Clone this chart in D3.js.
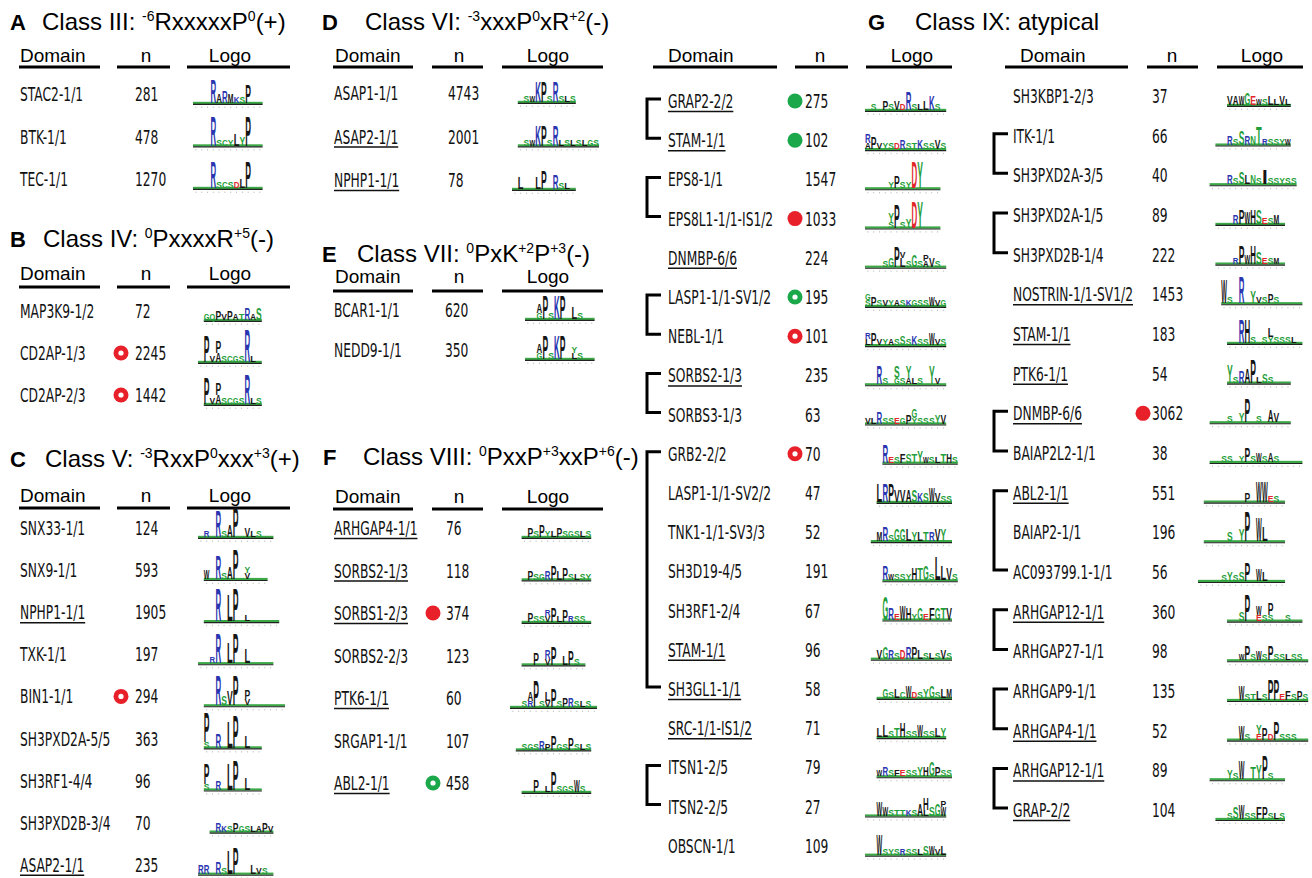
<!DOCTYPE html>
<html><head><meta charset="utf-8">
<script src="https://cdn.jsdelivr.net/npm/d3@7"></script>
<style>body{margin:0;background:#fff}</style>
</head><body>
<svg id="c" width="1312" height="878"></svg>
<script>
// ---------------- DATA ----------------
// Titles ("^" marks a superscript segment)
const titleA = ["Class III: ", "^-6", "RxxxxxP", "^0", "(+)"];
const titleB = ["Class IV: ", "^0", "PxxxxR", "^+5", "(-)"];
const titleC = ["Class V: ", "^-3", "RxxP", "^0", "xxx", "^+3", "(+)"];
const titleD = ["Class VI: ", "^-3", "xxxP", "^0", "xR", "^+2", "(-)"];
const titleE = ["Class VII: ", "^0", "PxK", "^+2", "P", "^+3", "(-)"];
const titleF = ["Class VIII: ", "^0", "PxxP", "^+3", "xxP", "^+6", "(-)"];
const titleG = ["Class IX: atypical"];
const headers = ["Domain", "n", "Logo"];

// Logos: one token per position, stacked letters top-first with height (0-10);
// "." = no position, "_" = low-information position
const aDomains = ["STAC2-1/1", "BTK-1/1", "TEC-1/1"];
const aN = [281, 478, 1270];
const aMarks = ["", "", ""];
const aUnder = [0, 0, 0];
const aLogos = [
  "_ _ _ R8 A3 R4 M3 K2 S2 P6 _ _",
  "_ _ _ R10 S2 C2 Y2 L4 Y3 P10 _ _",
  "_ _ _ R9 S2 C2 S2 D2 L3 P9 _ _"
];

const bDomains = ["MAP3K9-1/2", "CD2AP-1/3", "CD2AP-2/3"];
const bN = [72, 2245, 1442];
const bMarks = ["", "rr", "rr"];
const bUnder = [0, 0, 0];
const bLogos = [
  ". G2 Q2 P3 V2 P3 A2 T2 R4 A2 S4",
  "_ P9 V2 P4A3 S2 C2 G2 S2 R11 L2 _",
  ". P9 V2 P4A3 S2 C2 G2 S2 R10 L2 S2"
];

const cDomains = ["SNX33-1/1", "SNX9-1/1", "NPHP1-1/1", "TXK-1/1", "BIN1-1/1", "SH3PXD2A-5/5", "SH3RF1-4/4", "SH3PXD2B-3/4", "ASAP2-1/1"];
const cN = [124, 593, 1905, 197, 294, 363, 96, 70, 235];
const cMarks = ["", "", "", "", "rr", "", "", "", ""];
const cUnder = [0, 0, 1, 0, 0, 0, 0, 0, 1];
const cLogos = [
  "_ R2 _ R9 S2 A4 P10 _ V3 L2 S2 _ _",
  ". W3 _ R8 S2 A4 P10 _ Y2V2 _ _ _",
  ". _ _ R11 _ L9 P11 _ L2 _ _ _ _ _",
  "_ _ R2 R10 _ L7 P10 _ L5 _ _ _ _",
  ". _ _ R10 S3 V5 P10 _ P3V2 _ _ _ _ _ _",
  ". P10S2 _ R5 _ L9 P11 _ L4 _ _",
  ". P7S2 _ R3 _ L9 P10 _ L4 _ _",
  ". . _ R3 K2 S2 P3 G2 S2 L2 A2 P3 V2",
  "R3 R3 _ R4 S2 L8 P9 _ _ L3 V2 S2 _"
];

const dDomains = ["ASAP1-1/1", "ASAP2-1/1", "NPHP1-1/1"];
const dN = [4743, 2001, 78];
const dMarks = ["", "", ""];
const dUnder = [0, 1, 1];
const dLogos = [
  ". _ S2 W2 K7 P7 S2 R7 S2 L2 S2",
  ". _ S2 W2 K7 P7 S2 R7 L2 S2 L2 S2 L2 G2 S2",
  "_ L4 _ _ L4 P6 _ R5 S2 L2 _"
];

const eDomains = ["BCAR1-1/1", "NEDD9-1/1"];
const eN = [620, 350];
const eMarks = ["", ""];
const eUnder = [0, 0];
const eLogos = [
  "_ _ A3G2 P8 S2 K8 P8 _ L4 S2 _ _",
  "_ _ A3G2 P8 S2 K8 P8 _ Y2L2 S2 _ _"
];

const fDomains = ["ARHGAP4-1/1", "SORBS2-1/3", "SORBS1-2/3", "SORBS2-2/3", "PTK6-1/1", "SRGAP1-1/1", "ABL2-1/1"];
const fN = [76, 118, 374, 123, 60, 107, 458];
const fMarks = ["", "", "rf", "", "", "", "gr"];
const fUnder = [1, 1, 1, 0, 1, 0, 1];
const fLogos = [
  ". . _ P3 S2 P4 Y2 L2 P3 S2 G2 S2 L2 S2",
  ". . _ P3 S2 G2 R3 P5 L3 P4 S2 L2 S2 Y2",
  ". . _ P3 S2 S2 R2V2 P5 L2 P4 R2 S2 S2 _",
  ". . _ _ P4 _ R3V2 P6 _ L3 P5 S2 _",
  "_ _ S2 A3R2 P9 S2 L3V2 P6 S2 P3 R3 S2 L2 S2 _",
  ". _ S2 G2 S2 R3 P2 P5 G2 S2 P4 S2 L2 S2",
  ". . _ _ P4 _ L2 P7 S2 G2 S2 W4 S2 _"
];

const gLDomains = ["GRAP2-2/2", "STAM-1/1", "EPS8-1/1", "EPS8L1-1/1-IS1/2", "DNMBP-6/6", "LASP1-1/1-SV1/2", "NEBL-1/1", "SORBS2-1/3", "SORBS3-1/3", "GRB2-2/2", "LASP1-1/1-SV2/2", "TNK1-1/1-SV3/3", "SH3D19-4/5", "SH3RF1-2/4", "STAM-1/1", "SH3GL1-1/1", "SRC-1/1-IS1/2", "ITSN1-2/5", "ITSN2-2/5", "OBSCN-1/1"];
const gLN = [275, 102, 1547, 1033, 224, 195, 101, 235, 63, 70, 47, 52, 191, 67, 96, 58, 71, 79, 27, 109];
const gLMarks = ["gf", "gf", "", "rf", "", "gr", "rr", "", "", "rr", "", "", "", "", "", "", "", "", "", ""];
const gLUnder = [1, 1, 0, 0, 1, 0, 0, 1, 0, 0, 0, 0, 0, 0, 1, 1, 1, 0, 0, 0];
const gLBrackets = [[0, 1], [2, 3], [5, 6], [7, 8], [9, 15], [17, 18]];
const gLLogos = [
  "_ S2 _ P3 S2 V3 D2 R6 S2 L2 L3 K5 S2 _",
  "R3A2 P4 V2 Y2 S2 D2 R3 S2 T2 K3 S2 S2 V3 S2",
  "_ _ _ _ Y2 P4 S2 Y2 D9 Y9 _ _ _",
  "_ _ _ _ Y3S2 P8 S2 Y3 D9 Y9 _ _ _",
  "_ _ _ S2 G3 P7 V2L3 S2 G4 S2 P2A2 V3 S2 _",
  "G2S2 P3 S2 V2 Y2 A2 S2 K2 G2 S2 S2 W3 V2 G2",
  "R2L2 P4 V2 Y2 A2 S2 S3 S2 K3 S2 S2 W4 V2 S2",
  "_ _ R6 S2 _ S4G2 S2 Y4A2 L2 S2 _ Y6 V2 _",
  "V2 L2 R4 S2 S2 E2 G2 P3 G3Y2 S2 S2 S2 Y3 V3",
  ". . . R6 E2 S2 F3 S3 T3 Y4 W2 S2 L2 T3 H3 S2",
  ". . L6 R6 P6 V4 V4 A4 S4 K3 S3 W5 V3 S2 S2",
  ". _ M3 R5 S2 G4 G4 L4 Y3 L3 T3 R3 V4 Y4 _",
  ". . . R5 W2 S2 S2 Y2 H4 T4 G5 S2 L8 L5 V4 S2",
  ". . . G8 R4 E2 W5 H4 Y2 G4 E2 F4 G4 T4 V4",
  ". _ V3 G4 R3 S2 D3 R4 P4 L3 S2 L2 S2 V3 S2",
  ". . _ G3 S2 L3 C2 W4 D2 S2 Y3 G4 S2 L3 M3",
  ". . L3 L4 S2 T3 H5 S2 S2 W4 S2 S2 L3 Y3",
  ". . W2 R3 S2 F2 E2 S2 S2 Y3 H3 G5 P3 S2 S2",
  "_ _ W5 W3 S2 T2 T2 K2 S2 A4 H4L2 S3 G4 P2W3",
  "_ _ W7 S2 Y2 S2 R2 S2 S2 L2 S3 W3 V2 L3"
];

const gRDomains = ["SH3KBP1-2/3", "ITK-1/1", "SH3PXD2A-3/5", "SH3PXD2A-1/5", "SH3PXD2B-1/4", "NOSTRIN-1/1-SV1/2", "STAM-1/1", "PTK6-1/1", "DNMBP-6/6", "BAIAP2L2-1/1", "ABL2-1/1", "BAIAP2-1/1", "AC093799.1-1/1", "ARHGAP12-1/1", "ARHGAP27-1/1", "ARHGAP9-1/1", "ARHGAP4-1/1", "ARHGAP12-1/1", "GRAP-2/2"];
const gRN = [37, 66, 40, 89, 222, 1453, 183, 54, 3062, 38, 551, 196, 56, 360, 98, 135, 52, 89, 104];
const gRMarks = ["", "", "", "", "", "", "", "", "rf", "", "", "", "", "", "", "", "", "", ""];
const gRUnder = [0, 0, 0, 0, 0, 1, 1, 1, 1, 0, 1, 0, 0, 1, 0, 0, 1, 1, 1];
const gRBrackets = [[1, 2], [3, 4], [8, 9], [10, 12], [13, 14], [15, 16], [17, 18]];
const gRLogos = [
  ". . . . . V3 A3 W3 G4 E3 W2 S2 L3 L2 V3 L2",
  ". . . _ _ R3 S2 S5 R3 N3 T6 R2 S2 S2 Y2 W2",
  ". . _ _ _ R3 S2 S4 L3 N3 S2 I5 S2 S2 Y2 S2 S2",
  ". . . _ _ _ R3 P5 W4 H5 S5 E2 S2 M3 _",
  ". . . _ _ _ R2 P6 W3 H6 S4 E2 S2 M2 _",
  ". . . . W8 S2 _ R9 _ Y4 V2 S2 P3 S2 _ _ _ _",
  ". . . . . _ _ R8 H8 S2 _ S2 L3Y2 S2 S2 S2 L2 _",
  ". . . . . Y6 S2 R4 A5 P8 L2 S3 S2 _ _ _",
  ". . _ _ _ S2 _ Y3 P8 _ S2 _ A4 V3 _ _",
  ". . _ _ S2 S2 _ Y2 P5 S2 W3 S2 A3 S2 _ _ _ _",
  ". _ _ _ _ _ _ _ P3 _ W7 W7 E2 S2 _",
  ". _ _ _ _ S3 _ Y4 P10 _ W8 L5 _ _ _",
  "_ _ _ _ S2 Y3 S2 S3 P6 _ W4 L3 _ _ _",
  ". . . . . _ _ S3 P9 _ W3E2 S2 P4S2 _ _ S2 _ _",
  ". . . . . _ _ W2 P5 S2 W3 S2 P5 S2 S2 L2 S2 S2 _",
  ". . . . . _ _ W5 S2 T2 L3 S2 P7 P7 E2 F3 S2 P3 S2",
  ". . . . . _ _ W5 S2 _ Y3E2 P4 D2 P6 S2 S2 S2 _ _",
  ". . _ _ _ Y3 S2 W6 _ T4 Y5 P8 S2 _ _",
  ". . . _ _ S2 S4 W5 S2 S2 F4 P4 S2 L2 S2"
];

// ---------------- DRAWING ----------------
const svg = d3.select("#c");
const SANS = "'Liberation Sans', Arial, sans-serif";
const COND = "'DejaVu Sans', sans-serif";
const COLORS = { blue: "#2a35b0", red: "#e1262c", green: "#1f9e3a", black: "#151515" };
const MARK = { r: "#e8202a", g: "#1aa84b" };
const colW = 5.8;
const hScale = d3.scaleLinear().domain([0, 10]).range([0, 30]);

function letterColor(l) {
  if ("RK".includes(l)) return COLORS.blue;
  if ("DE".includes(l)) return COLORS.red;
  if ("GSTYNQC".includes(l)) return COLORS.green;
  return COLORS.black;
}

function parseLogo(s) {
  return s.split(" ").map(tok => tok === "." ? null : tok === "_" ? [] :
    Array.from(tok.matchAll(/([A-Z])(\d+)/g)).map(m => ({ l: m[1], v: +m[2] })));
}

function drawLogo(g, str, x0, base) {
  const cols = parseLogo(str);
  const x = d3.scaleBand().domain(d3.range(cols.length))
    .range([x0, x0 + cols.length * colW]).paddingInner(0.02);
  const first = cols.findIndex(c => c !== null);
  const xs = x(first), xe = x0 + cols.length * colW;
  g.append("rect").attr("x", xs).attr("y", base - 2.2).attr("width", xe - xs).attr("height", 2.2)
    .attr("fill", "#3aa845");
  g.append("line").attr("x1", xs).attr("x2", xe).attr("y1", base + 0.4).attr("y2", base + 0.4)
    .attr("stroke", "#222").attr("stroke-width", 1.1);
  cols.forEach((c, i) => {
    if (c === null) return;
    const cx = x(i) + x.bandwidth() / 2;
    g.append("line").attr("x1", cx).attr("x2", cx).attr("y1", base + 2.6).attr("y2", base + 4)
      .attr("stroke", "#aaa").attr("stroke-width", 0.7);
  });
  cols.forEach((c, i) => {
    if (!c || !c.length) return;
    let y = base - 1;
    c.slice().reverse().forEach(d => {
      const h = hScale(d.v);
      g.append("text").attr("x", x(i)).attr("y", y)
        .attr("font-family", SANS).attr("font-weight", "bold").attr("font-size", h / 0.716)
        .attr("textLength", x.bandwidth()).attr("lengthAdjust", "spacingAndGlyphs")
        .attr("fill", letterColor(d.l)).text(d.l);
      y -= h;
    });
  });
}

function condText(g, x, y, str) {
  return g.append("text").attr("transform", `translate(${x},${y}) scale(0.63,1)`)
    .attr("font-family", COND).attr("font-size", 19.5).attr("fill", "#111").text(str);
}

function drawTitle(lx, tx, y, letter, segs) {
  if (letter) svg.append("text").attr("x", lx).attr("y", y).attr("font-family", SANS)
    .attr("font-weight", "bold").attr("font-size", 22).attr("fill", "#000").text(letter);
  const t = svg.append("text").attr("x", tx).attr("y", y).attr("font-family", SANS)
    .attr("font-size", 24).attr("fill", "#000");
  let raised = false;
  segs.forEach(s => {
    const sup = s.startsWith("^");
    const ts = t.append("tspan").text(sup ? s.slice(1) : s);
    if (sup) { ts.attr("font-size", 14).attr("dy", raised ? 0 : -9); raised = true; }
    else { if (raised) ts.attr("dy", 9); raised = false; }
  });
}

function drawTable(cfg) {
  const g = svg.append("g");
  const ha = ["start", "middle", "middle"];
  headers.forEach((h, i) => {
    g.append("text").attr("x", cfg.ht[i]).attr("y", cfg.hy).attr("text-anchor", ha[i])
      .attr("font-family", SANS).attr("font-size", 19).attr("fill", "#000").text(h);
    g.append("line").attr("x1", cfg.lines[i][0]).attr("x2", cfg.lines[i][1])
      .attr("y1", cfg.uy).attr("y2", cfg.uy).attr("stroke", "#000").attr("stroke-width", 3);
  });
  const rowY = d3.scaleLinear().domain([0, 1]).range([cfg.y0, cfg.y0 + cfg.step]);
  cfg.domains.forEach((d, i) => {
    const y = rowY(i);
    const t = condText(g, cfg.dx, y, d);
    if (cfg.under[i]) {
      const w = t.node().getComputedTextLength() * 0.63;
      g.append("line").attr("x1", cfg.dx).attr("x2", cfg.dx + w).attr("y1", y + 3.5).attr("y2", y + 3.5)
        .attr("stroke", "#111").attr("stroke-width", 1.5);
    }
    condText(g, cfg.nx, y, String(cfg.n[i]));
    const m = cfg.marks[i];
    if (m) {
      g.append("circle").attr("cx", cfg.cx).attr("cy", y - 7).attr("r", 7.5).attr("fill", MARK[m[0]]);
      if (m[1] === "r") g.append("circle").attr("cx", cfg.cx).attr("cy", y - 7).attr("r", 2.6).attr("fill", "#fff");
    }
    drawLogo(g, cfg.logos[i], cfg.lx, y + 3);
  });
  (cfg.brackets || []).forEach(([a, b]) => {
    const y1 = rowY(a) - 9, y2 = rowY(b) - 9;
    g.append("path").attr("d", `M${cfg.bx + 14},${y1}H${cfg.bx}V${y2}H${cfg.bx + 14}`)
      .attr("fill", "none").attr("stroke", "#000").attr("stroke-width", 3);
  });
}

const L1 = [[19, 100], [117, 170], [187, 290]], H1 = [20, 146, 230];
const L2 = [[333, 413], [432, 483], [502, 603]], H2 = [335, 459, 548];

drawTitle(10, 42, 30, "A", titleA);
drawTitle(10, 43, 247, "B", titleB);
drawTitle(10, 45, 467, "C", titleC);
drawTitle(322, 365, 30, "D", titleD);
drawTitle(322, 357, 262, "E", titleE);
drawTitle(323, 363, 465, "F", titleF);
drawTitle(868, 915, 30, "G", titleG);

drawTable({ domains: aDomains, n: aN, marks: aMarks, under: aUnder, logos: aLogos,
  dx: 20, cx: 121, nx: 135, lx: 193, y0: 101, step: 42.5, hy: 62, uy: 67, lines: L1, ht: H1 });
drawTable({ domains: bDomains, n: bN, marks: bMarks, under: bUnder, logos: bLogos,
  dx: 20, cx: 121, nx: 135, lx: 198, y0: 318, step: 42, hy: 280, uy: 287, lines: L1, ht: H1 });
drawTable({ domains: cDomains, n: cN, marks: cMarks, under: cUnder, logos: cLogos,
  dx: 20, cx: 121, nx: 135, lx: 198, y0: 535, step: 42.1, hy: 502, uy: 508, lines: L1, ht: H1 });
drawTable({ domains: dDomains, n: dN, marks: dMarks, under: dUnder, logos: dLogos,
  dx: 334, cx: 433, nx: 448, lx: 512, y0: 100, step: 43.5, hy: 62, uy: 67, lines: L2, ht: H2 });
drawTable({ domains: eDomains, n: eN, marks: eMarks, under: eUnder, logos: eLogos,
  dx: 334, cx: 433, nx: 445, lx: 525, y0: 317, step: 40, hy: 283, uy: 291, lines: L2, ht: H2 });
drawTable({ domains: fDomains, n: fN, marks: fMarks, under: fUnder, logos: fLogos,
  dx: 334, cx: 433, nx: 446, lx: 510, y0: 535, step: 42.5, hy: 503, uy: 509, lines: L2, ht: H2 });
drawTable({ domains: gLDomains, n: gLN, marks: gLMarks, under: gLUnder, logos: gLLogos, brackets: gLBrackets, bx: 647,
  dx: 668, cx: 795, nx: 805, lx: 865, y0: 108, step: 39.2, hy: 62, uy: 67,
  lines: [[653, 777], [795, 848], [866, 952]], ht: [668, 820, 912] });
drawTable({ domains: gRDomains, n: gRN, marks: gRMarks, under: gRUnder, logos: gRLogos, brackets: gRBrackets, bx: 994,
  dx: 1013, cx: 1143, nx: 1152, lx: 1198, y0: 103, step: 39.67, hy: 62, uy: 67,
  lines: [[1005, 1128], [1147, 1198], [1217, 1303]], ht: [1020, 1172, 1262] });
</script></body></html>
